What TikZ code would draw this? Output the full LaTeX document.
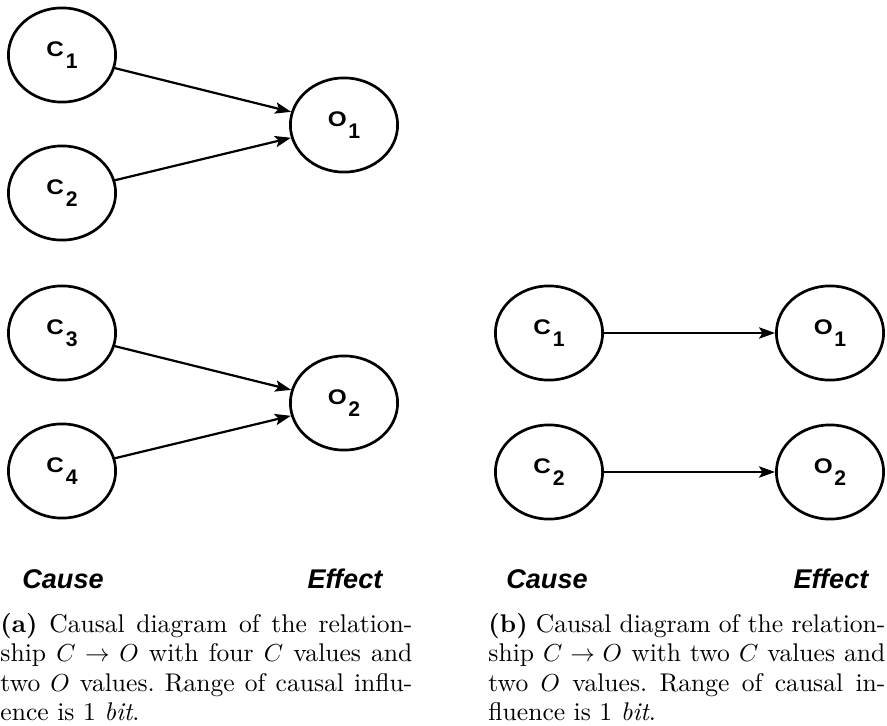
\documentclass[tikz,border=0pt]{standalone}
\usepackage{fontspec}
\newfontfamily\diagfont{Liberation Sans}
\usetikzlibrary{arrows.meta,shapes.geometric}
\newcommand{\lbl}[2]{\scalebox{1.15}[1]{#1}\kern0.7pt\raisebox{-4.8pt}{#2}}

\begin{document}
\frenchspacing
\begin{tikzpicture}[x=0.4066pt,y=-0.4066pt,
  state/.style={ellipse,draw,line width=1.1pt,minimum width=43.6pt,minimum height=38.3pt,
    inner sep=0pt,font=\diagfont\bfseries\fontsize{8.6}{9}\selectfont},
  link/.style={line width=0.9pt,-{Stealth[length=6.5pt,width=4.6pt,inset=1.4pt]}},
  heading/.style={anchor=base,font=\diagfont\bfseries\itshape\fontsize{11}{12}\selectfont},
  capt/.style={anchor=base west,inner sep=0pt,font=\fontsize{10.4}{12}\selectfont}]
\useasboundingbox (0,0) rectangle (887,726);

% (a) four causes, two effects
\node[state] (ca1) at (62,55) {\lbl{C}{1}};
\node[state] (ca2) at (62,193) {\lbl{C}{2}};
\node[state] (ca3) at (62,333) {\lbl{C}{3}};
\node[state] (ca4) at (62,471) {\lbl{C}{4}};
\node[state] (oa1) at (344,125) {\lbl{O}{1}};
\node[state] (oa2) at (344,403) {\lbl{O}{2}};

\draw[link] (ca1) -- (oa1);
\draw[link] (ca2) -- (oa1);
\draw[link] (ca3) -- (oa2);
\draw[link] (ca4) -- (oa2);

\node[heading] (causeA) at (63,588) {Cause};
\node[heading] (effectA) at (345,588) {Effect};

\node[capt] (captA) at (0,632.3) {\parbox[t]{167.5pt}{\textbf{(a)} Causal diagram of the relation-\linebreak
  ship $C \rightarrow O$ with four $C$ values and\linebreak
  two $O$ values. Range of causal influ-\linebreak
  ence is 1 \textit{bit}.}};

% (b) two causes, two effects
\node[state] (cb1) at (549,333) {\lbl{C}{1}};
\node[state] (cb2) at (549,472) {\lbl{C}{2}};
\node[state] (ob1) at (830,333) {\lbl{O}{1}};
\node[state] (ob2) at (830,472) {\lbl{O}{2}};

\draw[link] (cb1) -- (ob1);
\draw[link] (cb2) -- (ob2);

\node[heading] (causeB) at (547,588) {Cause};
\node[heading] (effectB) at (831,588) {Effect};

\node[capt] (captB) at (488,632.3) {\parbox[t]{161.4pt}{\textbf{(b)} Causal diagram of the relation-\linebreak
  ship $C \rightarrow O$ with two $C$ values and\linebreak
  two $O$ values. Range of causal in-\linebreak
  fluence is 1 \textit{bit}.}};

\end{tikzpicture}
\end{document}
